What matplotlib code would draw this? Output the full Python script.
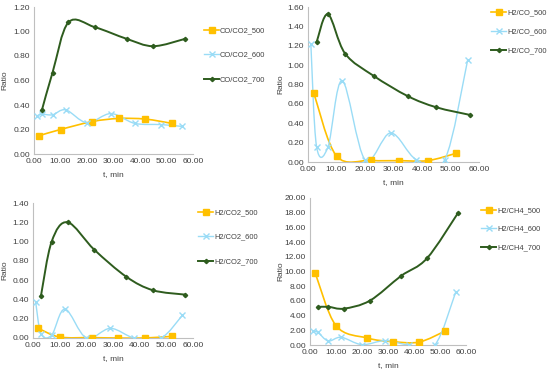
import numpy as np
import matplotlib
matplotlib.use('Agg')
from matplotlib import pyplot as plt
from matplotlib.path import Path
from matplotlib.patches import PathPatch
from matplotlib.ticker import FormatStrFormatter

plt.rcParams['font.family'] = ['Liberation Sans', 'DejaVu Sans']
plt.rcParams['font.size'] = 6

# sampling times (min) of each temperature series
t_500 = [2, 10, 22, 32, 42, 52]
t_600 = [1, 3, 7, 12, 20, 29, 38, 48, 56]
t_700 = [3, 7, 13, 23, 35, 45, 57]

# CO/CO2
co_co2_500 = [0.15, 0.20, 0.265, 0.29, 0.285, 0.25]
co_co2_600 = [0.31, 0.325, 0.32, 0.36, 0.255, 0.33, 0.25, 0.24, 0.225]
co_co2_700 = [0.36, 0.665, 1.075, 1.035, 0.94, 0.88, 0.94]

# H2/CO
h2_co_500 = [0.715, 0.062, 0.017, 0.014, 0.014, 0.09]
h2_co_600 = [1.22, 0.16, 0.155, 0.84, 0.025, 0.30, 0.025, 0.025, 1.05]
h2_co_700 = [1.235, 1.525, 1.12, 0.89, 0.68, 0.565, 0.485]

# H2/CO2
h2_co2_500 = [0.10, 0.01, 0.004, 0.0, 0.0, 0.017]
h2_co2_600 = [0.375, 0.045, 0.03, 0.30, 0.0, 0.10, 0.0, 0.0, 0.235]
h2_co2_700 = [0.44, 1.0, 1.2, 0.915, 0.635, 0.495, 0.45]

# H2/CH4
h2_ch4_500 = [9.8, 2.63, 0.95, 0.45, 0.4, 1.9]
h2_ch4_600 = [1.86, 1.72, 0.55, 1.05, 0.05, 0.6, 0.0, 0.0, 7.15]
h2_ch4_700 = [5.17, 5.2, 4.95, 6.03, 9.39, 11.8, 18.0]

ORANGE = '#FFC000'
CYAN = '#9ADCF6'
GREEN = '#2E5C1E'
TXT = '#404040'

W, H = 550, 373


def smooth_line(ax, x, y, color, lw):
    # Excel style smoothed line: cubic bezier through the points,
    # control points computed in screen-like space
    x0, x1 = ax.get_xlim()
    y0, y1 = ax.get_ylim()
    bb = ax.get_position()
    sx = bb.width * W / (x1 - x0)
    sy = bb.height * H / (y1 - y0)
    p = np.column_stack([(np.array(x) - x0) * sx, (np.array(y) - y0) * sy])
    n = len(p)
    verts = [p[0]]
    codes = [Path.MOVETO]
    for i in range(n - 1):
        pm = p[i - 1] if i > 0 else p[i]
        pp = p[i + 2] if i + 2 < n else p[i + 1]
        c1 = p[i] + (p[i + 1] - pm) / 6.0
        c2 = p[i + 1] - (pp - p[i]) / 6.0
        verts += [c1, c2, p[i + 1]]
        codes += [Path.CURVE4] * 3
    verts = np.array(verts)
    verts[:, 0] = verts[:, 0] / sx + x0
    verts[:, 1] = verts[:, 1] / sy + y0
    patch = PathPatch(Path(verts, codes), facecolor='none', edgecolor=color,
                      lw=lw, zorder=2)
    ax.add_patch(patch)


def panel(rect, ymax, ystep, series, names, ylab_x, leg_xy, leg_space):
    l, t, w, h = rect
    ax = fig.add_axes([l / W, 1 - (t + h) / H, w / W, h / H])
    ax.set_xlim(0, 60)
    ax.set_ylim(0, ymax)
    ax.set_xticks(np.arange(0, 61, 10))
    ax.set_yticks(np.arange(0, ymax + ystep / 2, ystep))
    ax.xaxis.set_major_formatter(FormatStrFormatter('%.2f'))
    ax.yaxis.set_major_formatter(FormatStrFormatter('%.2f'))
    ax.tick_params(length=0, pad=3, colors=TXT)
    for s in ['top', 'right']:
        ax.spines[s].set_visible(False)
    for s in ['left', 'bottom']:
        ax.spines[s].set_color('#BFBFBF')
        ax.spines[s].set_linewidth(0.8)
    ax.set_xlabel('t, min', color=TXT, labelpad=4)
    ax.set_ylabel('Ratio', color=TXT)
    ax.yaxis.set_label_coords((ylab_x - l) / w, 0.5)

    styles = [(ORANGE, 's', 4, 1.2), (CYAN, 'x', 4, 1.0), (GREEN, 'D', 2.2, 1.4)]
    handles = []
    for (x, y), name, (c, m, ms, lw) in zip(series, names, styles):
        smooth_line(ax, x, y, c, lw)
        ax.plot(x, y, ls='none', marker=m, ms=ms, color=c,
                mec=c, mew=1.0, zorder=3)
        proxy, = ax.plot([], [], color=c, lw=lw, marker=m, ms=ms, mew=1.0)
        handles.append(proxy)
    fig.legend(handles, names, loc='upper left',
               bbox_to_anchor=(leg_xy[0] / W, 1 - leg_xy[1] / H),
               frameon=False, handlelength=2.0, handletextpad=0.15,
               borderpad=0, borderaxespad=0,
               labelspacing=leg_space, fontsize=5.4, labelcolor=TXT)
    return ax


fig = plt.figure(figsize=(W / 100, H / 100), dpi=100)

panel((34, 7, 159, 147), 1.2, 0.2,
      [(t_500, co_co2_500), (t_600, co_co2_600), (t_700, co_co2_700)],
      ['CO/CO2_500', 'CO/CO2_600', 'CO/CO2_700'], 8, (204, 27), 2.3)

panel((308, 7, 171, 155), 1.6, 0.2,
      [(t_500, h2_co_500), (t_600, h2_co_600), (t_700, h2_co_700)],
      ['H2/CO_500', 'H2/CO_600', 'H2/CO_700'], 284, (491, 9), 1.6)

panel((33, 203, 160, 135), 1.4, 0.2,
      [(t_500, h2_co2_500), (t_600, h2_co2_600), (t_700, h2_co2_700)],
      ['H2/CO2_500', 'H2/CO2_600', 'H2/CO2_700'], 8, (198, 209), 2.3)

panel((310, 198, 156, 147), 20, 2,
      [(t_500, h2_ch4_500), (t_600, h2_ch4_600), (t_700, h2_ch4_700)],
      ['H2/CH4_500', 'H2/CH4_600', 'H2/CH4_700'], 284, (481, 207), 1.5)

fig.savefig('out.png', dpi=100)
